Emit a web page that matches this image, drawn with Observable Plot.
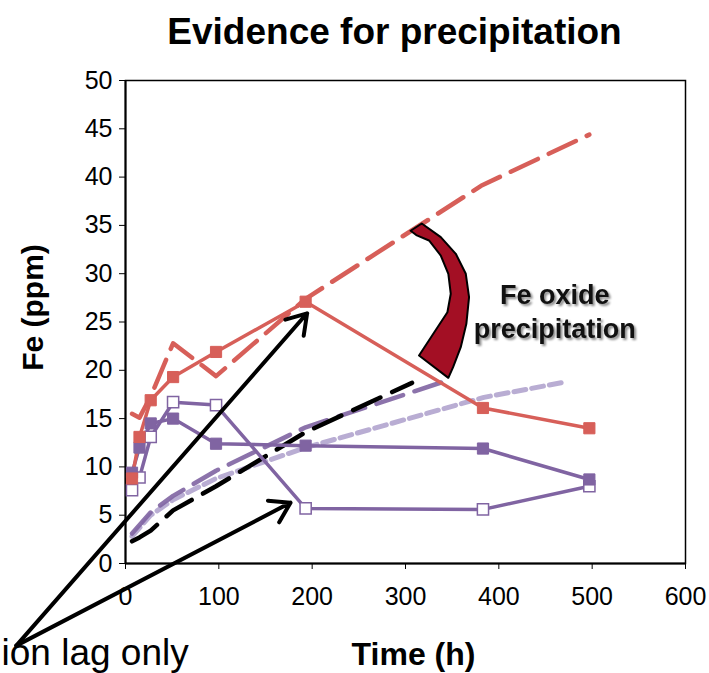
<!DOCTYPE html>
<html>
<head>
<meta charset="utf-8">
<script src="https://cdn.jsdelivr.net/npm/d3@7"></script>
<script src="https://cdn.jsdelivr.net/npm/@observablehq/plot@0.6"></script>
<style>
  body { margin: 0; background: #fff; }
  #chart svg { display: block; }
  #chart svg .oxide-label text { filter: drop-shadow(2px 2px 1.2px #8a8a8a); }
</style>
</head>
<body>
<div id="chart"></div>
<script>
// ---- data ----
const titleText = "Evidence for precipitation";
const xLabel = "Time (h)";
const yLabel = "Fe (ppm)";
const xTicks = [0, 100, 200, 300, 400, 500, 600];
const yTicks = [0, 5, 10, 15, 20, 25, 30, 35, 40, 45, 50];

const sampleTimes = [7, 15, 27, 51, 97, 193, 383, 497];
const redMeasured = [8.8, 13.1, 16.9, 19.3, 21.9, 27.1, 16.1, 14.0];
const purpleFilled = [9.4, 12.0, 14.5, 15.0, 12.4, 12.2, 11.9, 8.7];
const purpleOpen = [7.6, 8.9, 13.1, 16.7, 16.4, 5.7, 5.6, 8.0];

const redModelTimes = [7, 15, 27, 51, 97, 193, 381, 497];
const redModel = [15.5, 15.1, 17.3, 22.8, 19.4, 27.4, 39.1, 44.4];

const purpleModelTimes = [7, 27, 51, 97, 193, 340];
const purpleModel = [3.1, 5.3, 7.0, 9.6, 14.1, 18.8];

const lightModelTimes = [7, 27, 51, 97, 193, 384, 472];
const lightModel = [2.8, 5.0, 6.6, 8.8, 12.0, 17.2, 18.8];

const blackModelTimes = [7, 15, 27, 51, 97, 193, 307];
const blackModel = [2.3, 2.7, 3.4, 5.5, 8.0, 13.6, 18.7];

// annotations (data units)
const lagArrows = [
  {x1: -117, y1: -8.5, x2: 194.6, y2: 25.9},
  {x1: -117, y1: -8.5, x2: 176.8, y2: 6.3}
];
const lagText = "ion lag only";
const oxideText = "Fe oxide\nprecipitation";
const oxideTextPos = [{x: 460, y: 26.2}];
const oxideArrowX = [305.5, 317.4, 337.8, 353.9, 364.6, 368.1, 365.2, 359.2, 351.0, 345.9, 314.5, 344.9, 348.5, 345.9, 337.8, 325.2, 311.5];
const oxideArrowY = [34.45, 35.2, 33.78, 32.06, 29.99, 27.57, 24.81, 22.39, 20.32, 19.22, 21.53, 26.01, 27.92, 29.99, 31.88, 33.44, 34.0];

// ---- colours ----
const RED = "#d75f59";
const PURPLE = "#8064a2";
const LIGHT = "#b9add3";
const DARKRED = "#a30f24";
const FONT = "'Liberation Sans', Arial, sans-serif";

const toRows = (xs, ys) => xs.map((x, i) => ({x, y: ys[i]}));
const redRows = toRows(sampleTimes, redMeasured);
const purpleRows = toRows(sampleTimes, purpleFilled);
const openRows = toRows(sampleTimes, purpleOpen);
const redModelRows = toRows(redModelTimes, redModel);
const purpleModelRows = toRows(purpleModelTimes, purpleModel);
const lightModelRows = toRows(lightModelTimes, lightModel);
const blackModelRows = toRows(blackModelTimes, blackModel);
const arrowRows = toRows(oxideArrowX, oxideArrowY);

const chart = Plot.plot({
  width: 709,
  height: 673,
  marginLeft: 125,
  marginRight: 24,
  marginTop: 80,
  marginBottom: 110,
  style: {fontFamily: FONT, fontSize: "25px", color: "#000", background: "#fff", overflow: "visible"},
  x: {domain: [0, 600], ticks: xTicks, tickSize: 6, tickPadding: 18, label: null},
  y: {domain: [0, 50], ticks: yTicks, tickSize: 6, tickPadding: 7, label: null},
  marks: [
    Plot.frame({stroke: "#000", strokeWidth: 1.5}),
    Plot.ruleX([0], {stroke: "#000", strokeWidth: 2}),
    Plot.ruleY([0], {stroke: "#000", strokeWidth: 2}),
    // model curves
    Plot.line(lightModelRows, {x: "x", y: "y", stroke: LIGHT, strokeWidth: 5, strokeDasharray: "12,6"}),
    Plot.line(purpleModelRows, {x: "x", y: "y", stroke: PURPLE, strokeWidth: 4.5, strokeDasharray: "28,12", strokeOpacity: 0.9}),
    Plot.line(blackModelRows, {x: "x", y: "y", stroke: "#000", strokeWidth: 4.5, strokeDasharray: "30,13"}),
    Plot.line(redModelRows, {x: "x", y: "y", stroke: RED, strokeWidth: 4.5, strokeDasharray: "30,12"}),
    // measured series
    Plot.line(openRows, {x: "x", y: "y", stroke: PURPLE, strokeWidth: 3.5}),
    Plot.line(purpleRows, {x: "x", y: "y", stroke: PURPLE, strokeWidth: 3.5}),
    Plot.line(redRows, {x: "x", y: "y", stroke: RED, strokeWidth: 3.5}),
    Plot.dot(openRows, {x: "x", y: "y", symbol: "square", r: 6.3, fill: "#fff", stroke: PURPLE, strokeWidth: 1.5}),
    Plot.dot(purpleRows, {x: "x", y: "y", symbol: "square", r: 6.3, fill: PURPLE, stroke: PURPLE, strokeWidth: 1}),
    Plot.dot(redRows, {x: "x", y: "y", symbol: "square", r: 6.3, fill: RED, stroke: RED, strokeWidth: 1}),
    // annotations
    Plot.arrow(lagArrows, {x1: "x1", y1: "y1", x2: "x2", y2: "y2", stroke: "#000", strokeWidth: 4, headLength: 8.5, headAngle: 65}),
    Plot.line(arrowRows, {x: "x", y: "y", curve: "linear-closed", fill: DARKRED, stroke: "#000", strokeWidth: 2, strokeLinejoin: "round"}),
    Plot.text(oxideTextPos, {x: "x", y: "y", text: () => oxideText, fontSize: 27, fontWeight: "bold", lineHeight: 1.26, fill: "#111", className: "oxide-label"}),
    Plot.text([titleText], {frameAnchor: "top", text: d => d, dy: -48.5, dx: -11, fontSize: 37, fontWeight: "bold", lineAnchor: "middle"}),
    Plot.text([xLabel], {frameAnchor: "bottom", text: d => d, dy: 91.5, dx: 8, fontSize: 32, fontWeight: "bold", lineAnchor: "middle"}),
    Plot.text([yLabel], {frameAnchor: "left", text: d => d, dx: -92, dy: -14.5, rotate: -90, fontSize: 30, fontWeight: "bold", textAnchor: "middle", lineAnchor: "middle"}),
    Plot.text([lagText], {frameAnchor: "bottom-left", text: d => d, dx: -124, dy: 90, fontSize: 37, textAnchor: "start", lineAnchor: "middle"})
  ]
});
document.getElementById("chart").appendChild(chart);
</script>
</body>
</html>
